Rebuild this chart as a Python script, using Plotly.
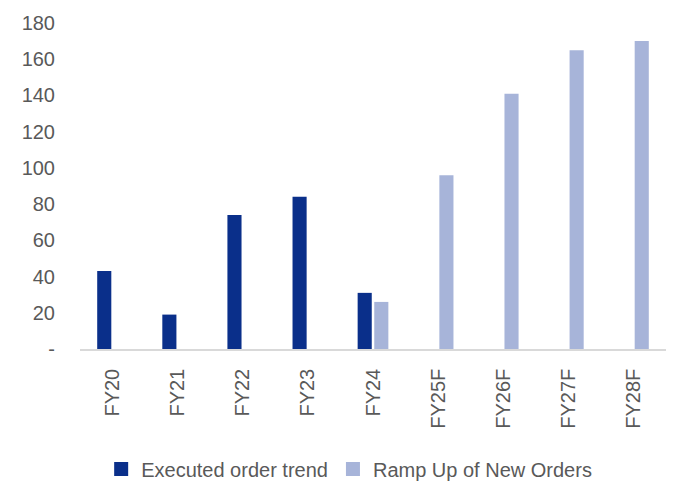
import plotly.graph_objects as go

categories = ["FY20", "FY21", "FY22", "FY23", "FY24", "FY25F", "FY26F", "FY27F", "FY28F"]
executed = [43, 19, 74, 84, 31, None, None, None, None]
ramp_up = [None, None, None, None, 26, 96, 141, 165, 170]
y_tickvals = [0, 20, 40, 60, 80, 100, 120, 140, 160, 180]
y_ticktext = ["-", "20", "40", "60", "80", "100", "120", "140", "160", "180"]

FONT = "Liberation Sans, Arial, sans-serif"
TXT = "#595959"
DARK = "#0A2F8A"
LIGHT = "#A7B4D9"
FS = 20

fig = go.Figure()
fig.add_trace(go.Bar(name="Executed order trend", x=categories, y=executed,
                     marker=dict(color=DARK, line=dict(width=0)), showlegend=False))
fig.add_trace(go.Bar(name="Ramp Up of New Orders", x=categories, y=ramp_up,
                     marker=dict(color=LIGHT, line=dict(width=0)), showlegend=False))
# legend entries with larger square symbols
fig.add_trace(go.Scatter(name="Executed order trend", x=[None], y=[None], mode="markers",
                         marker=dict(symbol="square", size=14, color=DARK)))
fig.add_trace(go.Scatter(name="Ramp Up of New Orders", x=[None], y=[None], mode="markers",
                         marker=dict(symbol="square", size=14, color=LIGHT)))

fig.update_layout(
    width=678, height=481,
    margin=dict(l=80, r=12, t=20, b=132),
    paper_bgcolor="white", plot_bgcolor="white",
    barmode="group", bargap=0.49, bargroupgap=0.15,
    font=dict(family=FONT, size=FS, color=TXT),
    showlegend=True,
    legend=dict(orientation="h", xref="container", yref="container",
                x=0.515, xanchor="center", y=0.025, yanchor="middle",
                font=dict(family=FONT, size=FS, color=TXT),
                itemwidth=30, traceorder="normal"),
    xaxis=dict(showline=True, linecolor="#D9D9D9", linewidth=1.5,
               tickangle=-90, ticks="outside", ticklen=10, tickcolor="rgba(0,0,0,0)",
               showgrid=False, tickfont=dict(family=FONT, size=FS, color=TXT)),
    yaxis=dict(range=[0, 180], tickvals=y_tickvals, ticktext=y_ticktext,
               showgrid=False, showline=False, zeroline=False,
               ticks="outside", ticklen=20, tickcolor="rgba(0,0,0,0)",
               tickfont=dict(family=FONT, size=FS, color=TXT)),
)

fig.write_html("out.html")
